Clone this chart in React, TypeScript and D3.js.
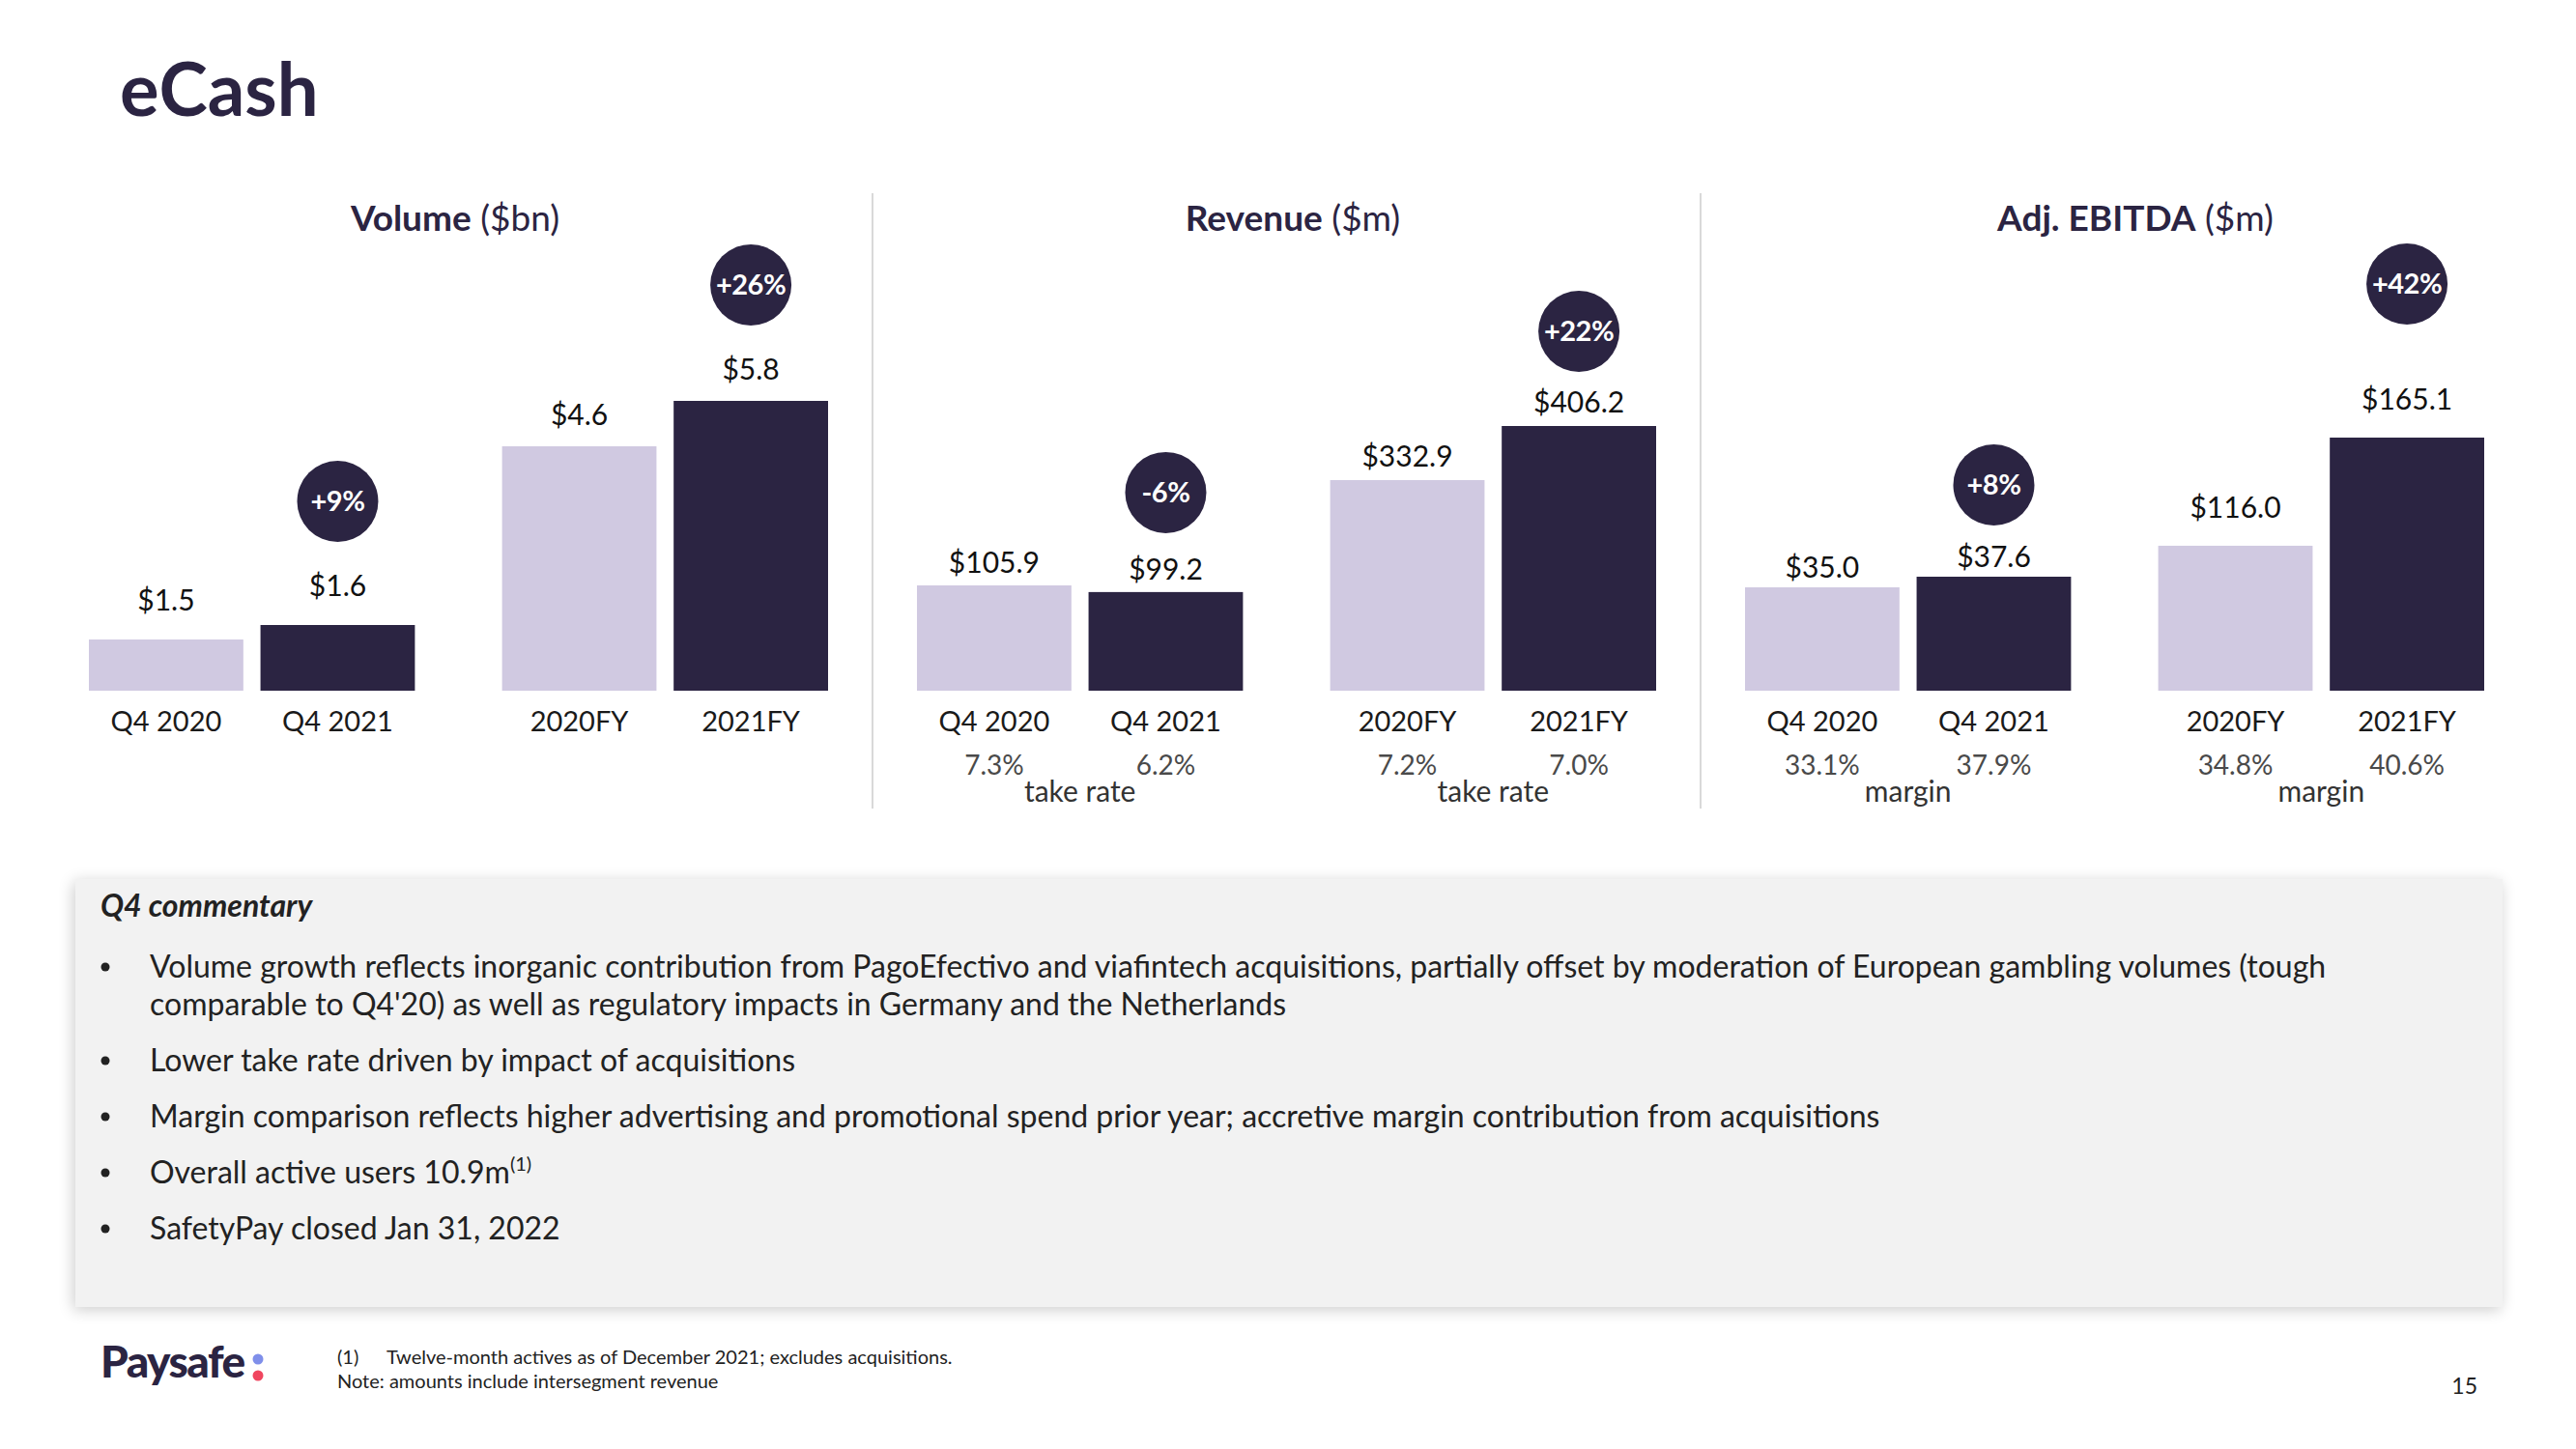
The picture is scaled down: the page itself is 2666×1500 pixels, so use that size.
import React from "react";
import * as d3 from "d3";

// ---------- data ----------
const periods = ["Q4 2020", "Q4 2021", "2020FY", "2021FY"];
const groups = ["Q4", "FY"];
const years = ["2020", "2021"];
const pageTitle = "eCash";
const panelTitleBold = ["Volume", "Revenue", "Adj. EBITDA"];
const panelTitleUnit = ["($bn)", "($m)", "($m)"];
const volumeValues = [1.5, 1.6, 4.6, 5.8];
const revenueValues = [105.9, 99.2, 332.9, 406.2];
const ebitdaValues = [35.0, 37.6, 116.0, 165.1];
const growthLabels = [
  ["+9%", "+26%"],
  ["-6%", "+22%"],
  ["+8%", "+42%"],
];
const takeRates = ["7.3%", "6.2%", "7.2%", "7.0%"];
const ebitdaMargins = ["33.1%", "37.9%", "34.8%", "40.6%"];
const ratioCaptions = ["", "take rate", "margin"];
const commentaryTitle = "Q4 commentary";
const commentaryBullets = [
  [
    "Volume growth reflects inorganic contribution from PagoEfectivo and viafintech acquisitions, partially offset by moderation of European gambling volumes (tough",
    "comparable to Q4'20) as well as regulatory impacts in Germany and the Netherlands",
  ],
  ["Lower take rate driven by impact of acquisitions"],
  [
    "Margin comparison reflects higher advertising and promotional spend prior year; accretive margin contribution from acquisitions",
  ],
  ["Overall active users 10.9m"],
  ["SafetyPay closed Jan 31, 2022"],
];
const bulletSuperscripts = ["", "", "", "(1)", ""];
const footnotes = [
  ["(1)", "Twelve-month actives as of December 2021; excludes acquisitions."],
  ["", "Note: amounts include intersegment revenue"],
];
const pageNumber = "15";

// ---------- scale configuration (the original slide scales each pair separately) ----------
const groupDomainFloor = [
  [1.147, -1.86],
  [0, 47.6],
  [9.7, 50.2],
];
const groupMaxHeight = [
  [68, 300],
  [109, 274],
  [118, 262],
];
const labelGap = [
  [30, 22],
  [13, 14],
  [10, 29],
];
const badgeGap = [
  [98, 98],
  [90, 84],
  [85, 130],
];
const titleShift = [-3, 7, 22];

// ---------- styles ----------
const DARK = "#2b2442";
const LIGHT = "#d0c9e1";
const FONT = "Lato, 'Noto Sans', sans-serif";
const W = 2666;
const H = 1500;

export default function App() {
  const panelsValues = [volumeValues, revenueValues, ebitdaValues];
  const panelRatios = [null, takeRates, ebitdaMargins];
  const fmt = d3.format(".1f");

  const panelScale = d3.scaleLinear().domain([0, 1]).range([92, 92 + 857]);
  const outer = d3.scaleBand().domain(groups).range([0, 765]).paddingInner(0.211);
  const inner = d3.scaleBand().domain(years).range([0, outer.bandwidth()]).paddingInner(0.1);
  const baseY = 715;

  const bulletStartY = 1012;
  const lineH = 39;
  const paraGap = 19;
  let cursorY = bulletStartY;
  const bulletLines = commentaryBullets.map((lines) => {
    const ys = lines.map((_, i) => cursorY + i * lineH);
    cursorY += lines.length * lineH + paraGap;
    return ys;
  });

  return (
    <svg
      width={W}
      height={H}
      style={{ position: "absolute", left: 0, top: 0, background: "#fff" }}
      fontFamily={FONT}
    >
      <defs>
        <filter id="boxShadow" x="-5%" y="-20%" width="110%" height="140%">
          <feGaussianBlur in="SourceAlpha" stdDeviation="8" />
          <feOffset dx="-2" dy="3" result="b" />
          <feComponentTransfer>
            <feFuncA type="linear" slope="0.2" />
          </feComponentTransfer>
          <feMerge>
            <feMergeNode />
            <feMergeNode in="SourceGraphic" />
          </feMerge>
        </filter>
      </defs>
      <rect x={0} y={0} width={W} height={H} fill="#fff" />

      <text x={124} y={120} fontSize={76} fontWeight={700} fill={DARK}>
        {pageTitle}
      </text>

      {/* dividers */}
      {[1, 2].map((i) => {
        const x = (panelScale(i - 1) + 765 + panelScale(i)) / 2;
        return <line key={i} x1={x} x2={x} y1={200} y2={837} stroke="#d9d9d9" strokeWidth={2} />;
      })}

      {panelsValues.map((vals, p) => {
        const x0 = panelScale(p);
        const ratios = panelRatios[p];
        return (
          <g key={p} transform={`translate(${x0},0)`}>
            <text x={382 + titleShift[p]} y={239} textAnchor="middle" fontSize={37} fill={DARK}>
              <tspan fontWeight={700}>{panelTitleBold[p]}</tspan>
              <tspan> {panelTitleUnit[p]}</tspan>
            </text>
            {groups.map((g, gi) => {
              const gVals = vals.slice(gi * 2, gi * 2 + 2);
              const y = d3
                .scaleLinear()
                .domain([groupDomainFloor[p][gi], d3.max(gVals) as number])
                .range([0, groupMaxHeight[p][gi]]);
              const gx = outer(g) as number;
              const darkIdx = 1;
              const darkX = gx + (inner(years[darkIdx]) as number) + inner.bandwidth() / 2;
              const darkTop = baseY - y(gVals[darkIdx]);
              const badgeCy = darkTop - labelGap[p][gi] - badgeGap[p][gi];
              return (
                <g key={g}>
                  {gVals.map((v, yi) => {
                    const bx = gx + (inner(years[yi]) as number);
                    const h = y(v);
                    const cx = bx + inner.bandwidth() / 2;
                    const idx = gi * 2 + yi;
                    return (
                      <g key={yi}>
                        <rect
                          x={bx}
                          y={baseY - h}
                          width={inner.bandwidth()}
                          height={h}
                          fill={yi === 0 ? LIGHT : DARK}
                        />
                        <text
                          x={cx}
                          y={baseY - h - labelGap[p][gi]}
                          textAnchor="middle"
                          fontSize={30}
                          fill="#111"
                        >
                          {"$" + fmt(v)}
                        </text>
                        <text x={cx} y={757} textAnchor="middle" fontSize={29} fill="#1a1a1a">
                          {periods[idx]}
                        </text>
                        {ratios && (
                          <text x={cx} y={802} textAnchor="middle" fontSize={28} fill="#4a4a4a">
                            {ratios[idx]}
                          </text>
                        )}
                      </g>
                    );
                  })}
                  {ratios && (
                    <text
                      x={gx + outer.bandwidth() / 2}
                      y={830}
                      textAnchor="middle"
                      fontSize={30}
                      fill="#333"
                    >
                      {ratioCaptions[p]}
                    </text>
                  )}
                  <circle cx={darkX} cy={badgeCy} r={42} fill={DARK} />
                  <text
                    x={darkX}
                    y={badgeCy + 10}
                    textAnchor="middle"
                    fontSize={29}
                    fontWeight={700}
                    fill="#fff"
                    letterSpacing={-0.5}
                  >
                    {growthLabels[p][gi]}
                  </text>
                </g>
              );
            })}
          </g>
        );
      })}

      {/* commentary box */}
      <rect x={78} y={910} width={2512} height={443} fill="#f2f2f2" filter="url(#boxShadow)" />
      <text x={104} y={949} fontSize={32} fontWeight={700} fontStyle="italic" fill="#222">
        {commentaryTitle}
      </text>
      {commentaryBullets.map((lines, bi) => (
        <g key={bi}>
          <circle cx={109} cy={bulletLines[bi][0] - 11} r={4.5} fill="#222" />
          {lines.map((ln, li) => (
            <text key={li} x={155} y={bulletLines[bi][li]} fontSize={32} fill="#222">
              {ln}
              {li === lines.length - 1 && bulletSuperscripts[bi] && (
                <tspan fontSize={20} dy={-13}>
                  {bulletSuperscripts[bi]}
                </tspan>
              )}
            </text>
          ))}
        </g>
      ))}

      {/* footer */}
      <text x={104} y={1426} fontSize={46} fontWeight={900} fill={DARK} letterSpacing={-1.5}>
        Paysafe
      </text>
      <circle cx={267} cy={1407} r={5.5} fill="#7f8fea" />
      <circle cx={267} cy={1424} r={5.5} fill="#f0465f" />
      {footnotes.map((f, i) => (
        <g key={i}>
          {f[0] && (
            <text x={349} y={1412 + i * 25} fontSize={20} fill="#222">
              {f[0]}
            </text>
          )}
          <text x={f[0] ? 400 : 349} y={1412 + i * 25} fontSize={20} fill="#222">
            {f[1]}
          </text>
        </g>
      ))}
      <text x={2564} y={1443} textAnchor="end" fontSize={23} fill="#222">
        {pageNumber}
      </text>
    </svg>
  );
}
